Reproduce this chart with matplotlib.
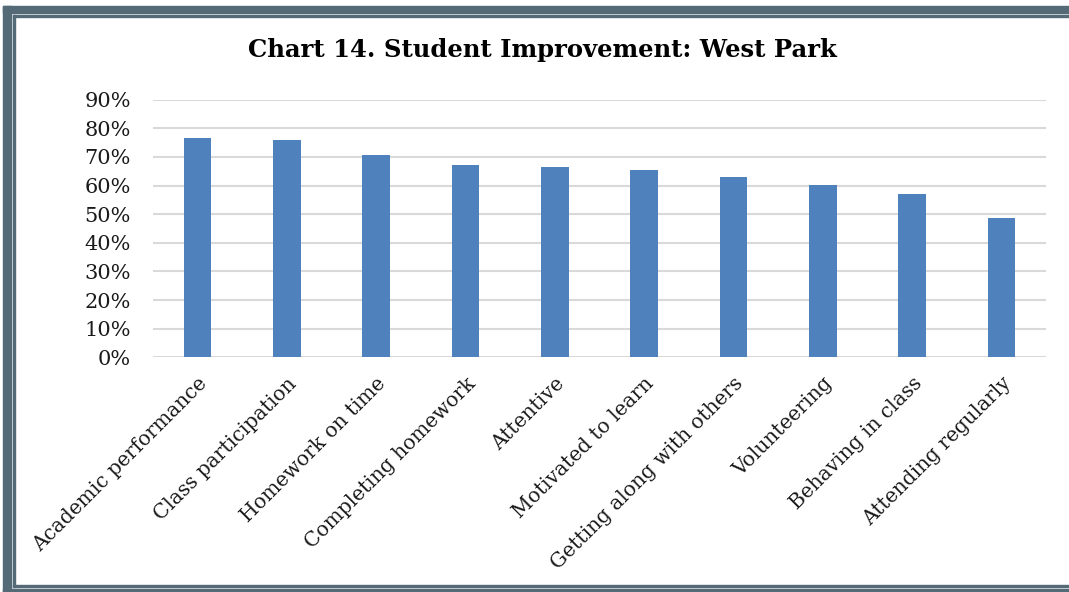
import matplotlib.pyplot as plt
from matplotlib.patches import Rectangle
from matplotlib.ticker import PercentFormatter

categories = ['Academic performance', 'Class participation', 'Homework on time',
              'Completing homework', 'Attentive', 'Motivated to learn',
              'Getting along with others', 'Volunteering', 'Behaving in class',
              'Attending regularly']
values = [76.5, 75.8, 70.6, 67.1, 66.5, 65.4, 62.9, 60.2, 57.1, 48.6]
yticks = [0, 10, 20, 30, 40, 50, 60, 70, 80, 90]

W, H = 1069, 592
fig = plt.figure(figsize=(W / 100, H / 100), dpi=100)
ax = fig.add_axes([153 / W, 1 - 357.3 / H, (1046 - 153) / W, (357.3 - 99.7) / H])

# frame around the chart (cut off on the right)
border = '#546a76'
def px_rect(x0, y0, x1, y1, **kw):
    fig.patches.append(Rectangle((x0 / W, 1 - y1 / H), (x1 - x0) / W, (y1 - y0) / H,
                                 transform=fig.transFigure, **kw))
px_rect(3, 6, W + 20, 13, color=border)
px_rect(3, 6, 11, H + 20, color=border)
px_rect(3, 589, W + 20, H + 20, color=border)
px_rect(12.5, 15, W + 20, 17, color=border)
px_rect(12.5, 15, 14.5, 587, color=border)
px_rect(12.5, 585, W + 20, 587, color=border)

x = range(len(categories))
ax.bar(x, values, width=0.31, color='#4f81bd', zorder=3)
ax.set_xlim(-0.5, len(categories) - 0.5)
ax.set_ylim(0, 90)
ax.set_yticks(yticks)
ax.yaxis.set_major_formatter(PercentFormatter(decimals=0))
ax.grid(axis='y', color='#d9d9d9', linewidth=1.5, zorder=0)
for s in ax.spines.values():
    s.set_visible(False)
ax.tick_params(axis='y', length=0, labelsize=15, pad=16)
ax.tick_params(axis='x', length=0, labelsize=15, pad=12)
ax.set_xticks(list(x))
ax.set_xticklabels(categories, rotation=45, ha='right', rotation_mode='anchor',
                   fontsize=14.5)
for lab in ax.get_xticklabels() + ax.get_yticklabels():
    lab.set_family('DejaVu Serif')
    lab.set_color('#1a1a1a')

fig.text(542 / W, 1 - 50 / H, 'Chart 14. Student Improvement: West Park',
         ha='center', va='center', fontsize=17.5, fontweight='bold',
         family='DejaVu Serif')

fig.savefig('out.png', dpi=100)
